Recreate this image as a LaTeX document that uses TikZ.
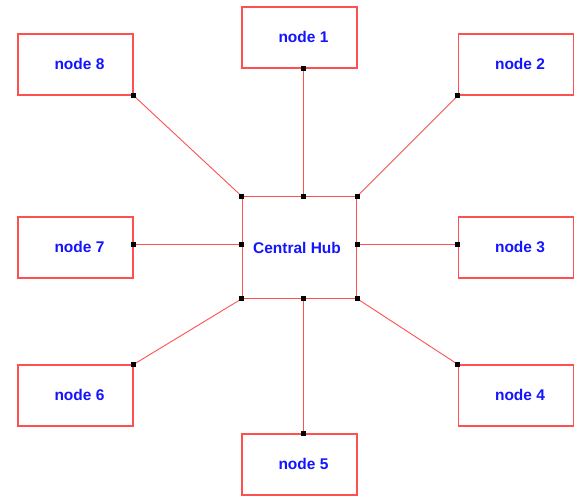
\documentclass[tikz,border=0pt]{standalone}
\usepackage{fontspec}
\setmainfont{Liberation Sans}
\definecolor{boxred}{RGB}{255,80,80}
\definecolor{txtblue}{RGB}{20,20,255}
\begin{document}
\begin{tikzpicture}[x=1pt,y=-1pt,
  box/.style={draw=boxred,line width=1.1pt,minimum width=115pt,minimum height=61pt,inner sep=0pt,
    font=\fontsize{15.5}{18}\selectfont\bfseries,text=txtblue},
  hub/.style={box,minimum height=101.5pt,minimum width=114.5pt},
  link/.style={draw=boxred,line width=0.9pt},
  dot/.style={fill=black,minimum size=5pt,inner sep=0pt}]
\useasboundingbox (0,0) rectangle (581,501);
\node[hub] (h) at (299.5,247.5) {Central Hub\hspace*{5pt}};
\node[box] (n1) at (299.5,37.5) {\raisebox{2pt}{\hspace*{8pt}node 1}};
\node[box] (n2) at (516,64.5) {\raisebox{2pt}{\hspace*{8pt}node 2}};
\node[box] (n3) at (516,247.5) {\raisebox{2pt}{\hspace*{8pt}node 3}};
\node[box] (n4) at (516,395.5) {\raisebox{2pt}{\hspace*{8pt}node 4}};
\node[box] (n5) at (299.5,464.5) {\raisebox{2pt}{\hspace*{8pt}node 5}};
\node[box] (n6) at (75.5,395.5) {\raisebox{2pt}{\hspace*{8pt}node 6}};
\node[box] (n7) at (75.5,247.5) {\raisebox{2pt}{\hspace*{8pt}node 7}};
\node[box] (n8) at (75.5,64.5) {\raisebox{2pt}{\hspace*{8pt}node 8}};
\coordinate (hN) at ([xshift=3.5pt]h.north);
\coordinate (hS) at ([xshift=3.5pt]h.south);
\coordinate (hE) at ([yshift=3.5pt]h.east);
\coordinate (hW) at ([yshift=3.5pt]h.west);
\coordinate (p1) at ([xshift=3.5pt]n1.south);
\coordinate (p5) at ([xshift=3.5pt]n5.north);
\coordinate (p3) at ([yshift=3.5pt]n3.west);
\coordinate (p7) at ([yshift=3.5pt]n7.east);
\draw[link] (p1) -- (hN);
\draw[link] (n2.south west) -- (h.north east);
\draw[link] (p3) -- (hE);
\draw[link] (n4.north west) -- (h.south east);
\draw[link] (p5) -- (hS);
\draw[link] (n6.north east) -- (h.south west);
\draw[link] (p7) -- (hW);
\draw[link] (n8.south east) -- (h.north west);
\foreach \a in {hN,hS,hE,hW,h.north east,h.south east,h.south west,h.north west,p1,p3,p5,p7,n2.south west,n4.north west,n6.north east,n8.south east}
  \node[dot] at (\a) {};
\end{tikzpicture}
\end{document}
